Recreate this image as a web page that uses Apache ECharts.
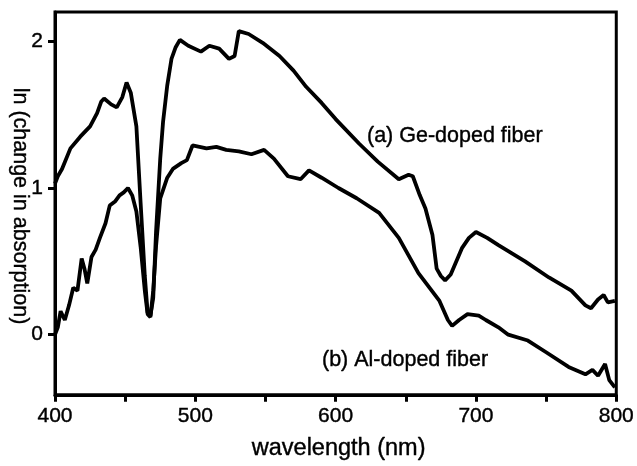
<!DOCTYPE html>
<html>
<head>
<meta charset="utf-8">
<script src="https://cdn.jsdelivr.net/npm/echarts@6/dist/echarts.min.js"></script>
<style>html,body{margin:0;padding:0;background:#fff}#c{width:637px;height:466px}</style>
</head>
<body>
<div id="c"></div>
<script>
const xTickValues = [400,450,500,550,600,650,700,750,800];
const xLabelValues = [400,500,600,700,800];
const yLabelValues = [0,1,2];

const geWl  = [400,402,405,411,418,425,430,433,435,440,444,448,451,454,458,461,464,466,468,470,472,475,477,480,483,486,489,495,504,510,517,524,528,531,538,548,560,570,579,590,600,617,630,645,652,655,660,664,669,672,675,678,682,690,695,700,708,716,735,752,768,778,782,787,791,794,799];
const geVal = [1.03,1.08,1.13,1.27,1.35,1.42,1.51,1.59,1.61,1.57,1.55,1.62,1.72,1.65,1.42,0.9,0.4,0.15,0.13,0.25,0.7,1.2,1.45,1.7,1.88,1.96,2.01,1.97,1.93,1.97,1.95,1.88,1.90,2.07,2.05,1.99,1.90,1.80,1.69,1.58,1.47,1.30,1.18,1.06,1.09,1.08,0.95,0.86,0.68,0.45,0.40,0.37,0.41,0.59,0.66,0.70,0.66,0.61,0.50,0.39,0.30,0.20,0.18,0.24,0.27,0.22,0.23];

const alWl  = [400,402,404,407,410,413,416,419,421,423,426,429,432,436,439,443,446,449,452,455,458,461,464,466,468,470,472,475,480,484,490,494,498,508,515,522,531,540,549,556,566,575,581,590,602,615,631,645,659,674,680,683,688,694,702,707,716,723,737,750,766,778,783,787,792,795,799];
const alVal = [0.0,0.05,0.16,0.10,0.2,0.32,0.30,0.52,0.45,0.35,0.53,0.58,0.66,0.76,0.88,0.91,0.95,0.97,1.0,0.95,0.84,0.6,0.3,0.14,0.12,0.3,0.6,0.93,1.07,1.13,1.17,1.19,1.29,1.27,1.28,1.26,1.25,1.23,1.26,1.20,1.08,1.06,1.12,1.07,1.0,0.93,0.83,0.66,0.42,0.23,0.1,0.06,0.1,0.14,0.13,0.1,0.05,0.0,-0.04,-0.12,-0.22,-0.27,-0.24,-0.28,-0.2,-0.31,-0.36];

const geData = geWl.map((w,i)=>[w,geVal[i]]);
const alData = alWl.map((w,i)=>[w,alVal[i]]);

const FONT = 'Liberation Sans, Arial, sans-serif';
const chart = echarts.init(document.getElementById('c'));
chart.setOption({
  animation:false,
  backgroundColor:'#fff',
  grid:{left:55,right:19,top:12,bottom:69,show:true,borderColor:'#000',borderWidth:3,backgroundColor:'transparent'},
  xAxis:{
    type:'value',min:400,max:800,
    name:'wavelength (nm)',nameLocation:'middle',nameGap:42,
    nameTextStyle:{fontFamily:FONT,fontSize:23.5,color:'#000',textBorderColor:'#000',textBorderWidth:0.4,padding:[0,0,0,6]},
    axisLine:{onZero:false,lineStyle:{color:'#000',width:3}},
    axisTick:{show:true,customValues:xTickValues,length:7,lineStyle:{color:'#000',width:3}},
    axisLabel:{customValues:xLabelValues,fontFamily:FONT,fontSize:21,color:'#000',margin:11,textBorderColor:'#000',textBorderWidth:0.4},
    splitLine:{show:false}
  },
  yAxis:{
    type:'value',min:-0.41,max:2.2,
    axisLine:{show:true,onZero:false,lineStyle:{color:'#000',width:3}},
    axisTick:{show:true,customValues:yLabelValues,length:7,lineStyle:{color:'#000',width:3}},
    axisLabel:{customValues:yLabelValues,fontFamily:FONT,fontSize:21,color:'#000',margin:12,textBorderColor:'#000',textBorderWidth:0.4},
    splitLine:{show:false}
  },
  graphic:[
    {type:'text',x:367,y:136,style:{text:'(a) Ge-doped fiber',font:'21.5px '+FONT,fill:'#000',stroke:'#000',lineWidth:0.4,verticalAlign:'middle'}},
    {type:'text',x:322,y:360,style:{text:'(b) Al-doped fiber',font:'21.5px '+FONT,fill:'#000',stroke:'#000',lineWidth:0.4,verticalAlign:'middle'}},
    {type:'text',x:20,y:206,rotation:-Math.PI/2,style:{text:'ln (change in absorption)',font:'21.5px '+FONT,fill:'#000',stroke:'#000',lineWidth:0.4,align:'center',verticalAlign:'middle'}}
  ],
  series:[
    {type:'line',data:geData,showSymbol:false,lineStyle:{color:'#000',width:3.8},z:3},
    {type:'line',data:alData,showSymbol:false,lineStyle:{color:'#000',width:3.8},z:3}
  ]
});
</script>
</body>
</html>
